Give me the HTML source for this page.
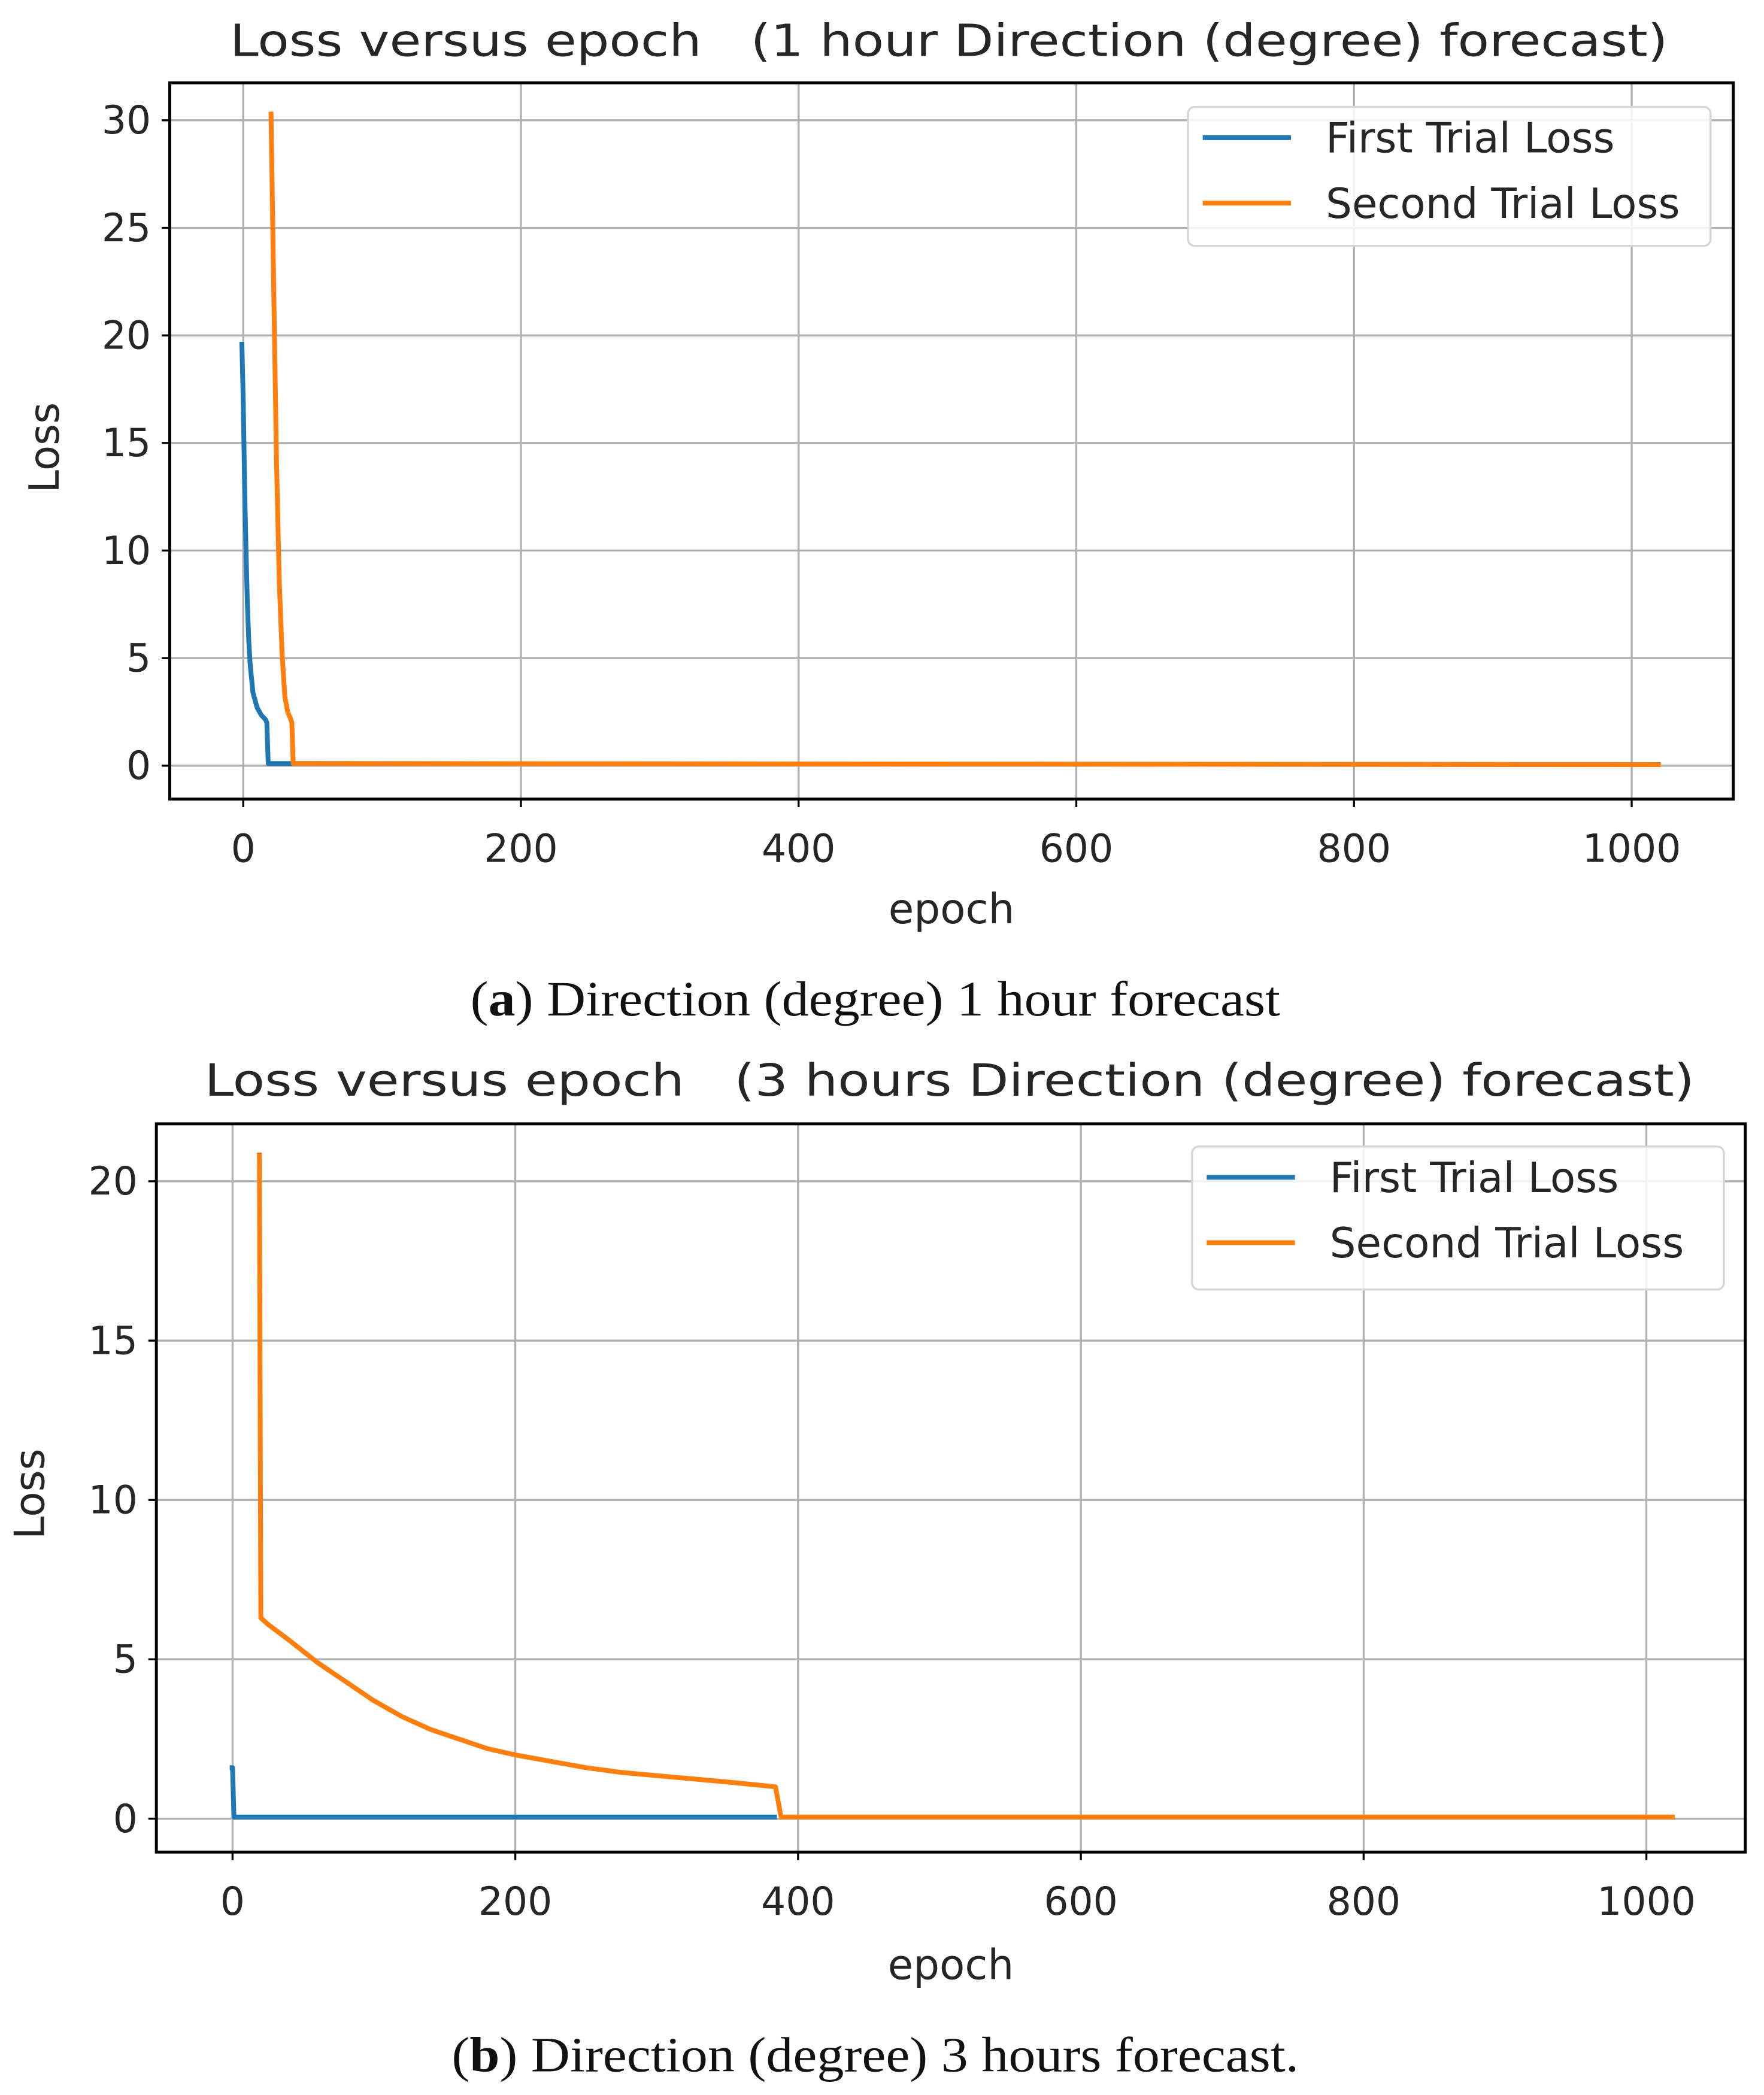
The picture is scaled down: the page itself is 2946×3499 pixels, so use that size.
<!DOCTYPE html>
<html><head><meta charset="utf-8"><style>
html,body{margin:0;padding:0;background:#fff;}
svg{display:block;}
text{font-family:"DejaVu Sans","Liberation Sans",sans-serif;fill:#262626;white-space:pre;}
.cap{font-family:"Liberation Serif","DejaVu Serif",serif;fill:#111;}
</style></head><body>
<svg id="fig" width="2946" height="3499" viewBox="0 0 1320 1567.8" xmlns="http://www.w3.org/2000/svg">
<rect width="1320" height="1567.8" fill="#fff"/>
<g id="chartA"></g>
<g id="chartB"></g>
</svg>
<script>
// ---- Chart A data ----
const aBlueX = [-1,0,1,2,3,4,5,7,10,13,16,17,18,1020];
const aBlueY = [19.7,17,13,10,7.5,5.8,4.7,3.4,2.7,2.35,2.15,2.0,0.1,0.05];
const aOrangeX = [20,22,24,26,28,30,32,34,35,36,1021];
const aOrangeY = [30.4,22,14,8.5,5.2,3.2,2.5,2.2,2.0,0.1,0.05];
const aXTicks = [0,200,400,600,800,1000];
const aYTicks = [0,5,10,15,20,25,30];
// ---- Chart B data ----
const bBlueX = [-2,0,1,385];
const bBlueY = [1.6,1.6,0.05,0.05];
const bOrangeX = [19,20,25,40,60,80,100,120,140,160,180,200,225,250,275,300,325,350,384,388,1020];
const bOrangeY = [20.9,6.3,6.1,5.6,4.9,4.3,3.7,3.2,2.8,2.5,2.2,2.0,1.8,1.6,1.45,1.35,1.25,1.15,1.0,0.05,0.05];
const bXTicks = [0,200,400,600,800,1000];
const bYTicks = [0,5,10,15,20];

const NS = "http://www.w3.org/2000/svg";
function mk(parent, tag, attrs, txt){
  const e = document.createElementNS(NS, tag);
  for (const k in attrs) e.setAttribute(k, attrs[k]);
  if (txt !== undefined) e.textContent = txt;
  parent.appendChild(e);
  return e;
}

function drawChart(g, cfg){
  const xs = v => cfg.x0px + (v - 0) * (cfg.x200px - cfg.x0px) / 200;
  const ys = v => cfg.y0px - v * (cfg.y0px - cfg.yRefPx) / cfg.yRef;
  const L=cfg.left,R=cfg.right,T=cfg.top,B=cfg.bottom;
  cfg.xTicks.forEach(t=>{
    const gl = mk(g,'line',{x1:xs(t),x2:xs(t),y1:T,y2:B,stroke:'#b0b0b0','stroke-width':1.5});
    
    
    const tk = mk(g,'line',{x1:xs(t),x2:xs(t),y1:B,y2:B+6,stroke:'#000','stroke-width':1.5});
    
    
    const tl = mk(g,'text',{x:xs(t),y:B+47,'text-anchor':'middle','font-size':29},String(t));
    
    
  });
  cfg.yTicks.forEach(t=>{
    const gl = mk(g,'line',{x1:L,x2:R,y1:ys(t),y2:ys(t),stroke:'#b0b0b0','stroke-width':1.5});
    
    
    const tk = mk(g,'line',{x1:L-6,x2:L,y1:ys(t),y2:ys(t),stroke:'#000','stroke-width':1.5});
    
    
    const tl = mk(g,'text',{x:L-14,y:ys(t)+10,'text-anchor':'end','font-size':29},String(t));
    
    
  });
  const series = [[cfg.bx,cfg.by,'#1f77b4','first-trial-loss-line'],[cfg.ox,cfg.oy,'#ff7f0e','second-trial-loss-line']];
  series.forEach(s=>{
    const d = s[0].map((x,i)=>(i?'L':'M')+xs(x).toFixed(2)+','+ys(s[1][i]).toFixed(2)).join(' ');
    const p = mk(g,'path',{d:d,fill:'none',stroke:s[2],'stroke-width':3.6,'stroke-linejoin':'round'});
    
    
  });
  const fr = mk(g,'rect',{x:L,y:T,width:R-L,height:B-T,fill:'none',stroke:'#000','stroke-width':2.2});
  
  
  const ti = mk(g,'text',{x:cfg.titleX,y:cfg.titleY,'font-size':33,textLength:cfg.titleLen,lengthAdjust:'spacingAndGlyphs'},cfg.title);
  
  
  const xl = mk(g,'text',{x:(L+R)/2,y:cfg.xlabY,'text-anchor':'middle','font-size':31},'epoch');
  
  
  const yl = mk(g,'text',{x:0,y:0,'text-anchor':'middle','font-size':31,transform:`translate(${cfg.ylabX},${cfg.ylabY}) rotate(-90)`},'Loss');
  
  
  const lg = mk(g,'g',{});
  
  
  mk(lg,'rect',{x:cfg.lgX,y:cfg.lgY,width:cfg.lgW,height:cfg.lgH,rx:5,fill:'#fff','fill-opacity':0.85,stroke:'#d6d6d6','stroke-width':1.5});
  [['First Trial Loss','#1f77b4',cfg.lgY+23,'legend-entry-first'],['Second Trial Loss','#ff7f0e',cfg.lgY+72,'legend-entry-second']].forEach(e=>{
    const eg = mk(lg,'g',{});
    
    
    mk(eg,'line',{x1:cfg.lgX+11,x2:cfg.lgX+77,y1:e[2],y2:e[2],stroke:e[1],'stroke-width':3.6});
    mk(eg,'text',{x:cfg.lgX+103,y:e[2]+11,'font-size':31},e[0]);
  });
  const cp = mk(g,'text',{x:cfg.capX,y:cfg.capY,'font-size':37,textLength:cfg.capLen,lengthAdjust:'spacingAndGlyphs','class':'cap'});
  
  
  mk(cp,'tspan',{},'(');
  mk(cp,'tspan',{'font-weight':'bold'},cfg.capLetter);
  mk(cp,'tspan',{},') '+cfg.caption);
}

drawChart(document.getElementById('chartA'),{
  left:127,right:1297,top:62,bottom:598,
  x0px:182,x200px:389.8,y0px:573,yRefPx:90,yRef:30,
  xTicks:aXTicks,yTicks:aYTicks,bx:aBlueX,by:aBlueY,ox:aOrangeX,oy:aOrangeY,
  title:'Loss versus epoch   (1 hour Direction (degree) forecast)',titleX:172,titleY:42,titleLen:1076,
  xlabY:691,ylabX:44,ylabY:335,
  lgX:889,lgY:80,lgW:391,lgH:104,
  capLetter:'a',caption:'Direction (degree) 1 hour forecast',capX:352,capY:760,capLen:606
});
drawChart(document.getElementById('chartB'),{
  left:117,right:1306,top:841,bottom:1386,
  x0px:174,x200px:385.6,y0px:1361,yRefPx:884,yRef:20,
  xTicks:bXTicks,yTicks:bYTicks,bx:bBlueX,by:bBlueY,ox:bOrangeX,oy:bOrangeY,
  title:'Loss versus epoch   (3 hours Direction (degree) forecast)',titleX:153,titleY:820,titleLen:1115,
  xlabY:1481,ylabX:33,ylabY:1118,
  lgX:892,lgY:858,lgW:398,lgH:107,
  capLetter:'b',caption:'Direction (degree) 3 hours forecast.',capX:338,capY:1550,capLen:634
});
</script>
</body></html>
